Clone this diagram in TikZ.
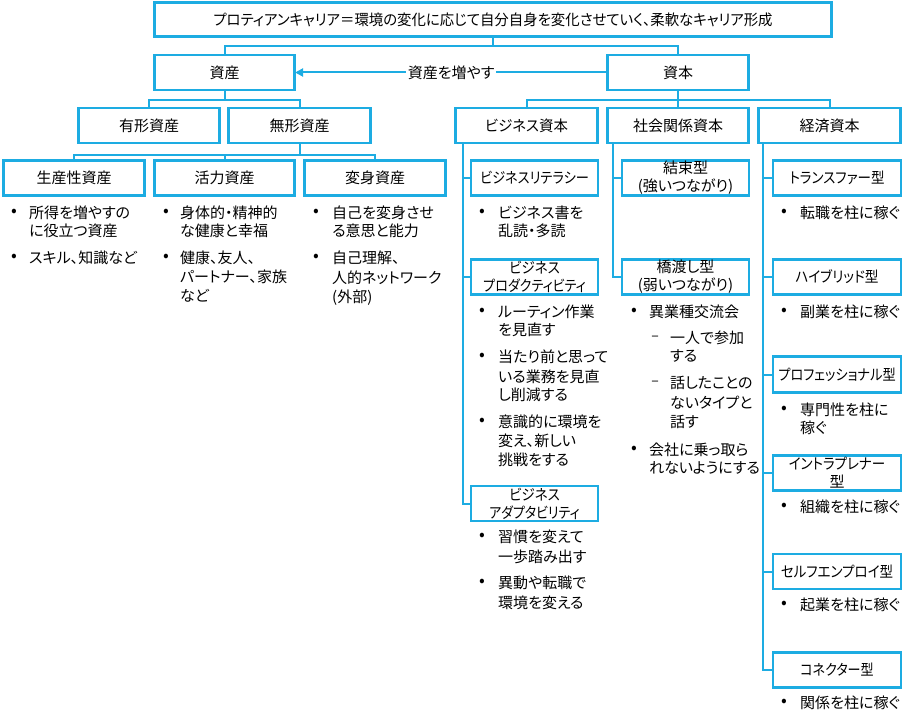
\documentclass[tikz,border=0pt]{standalone}
\usepackage{fontspec}
\usepackage{graphicx}
\setmainfont{Noto Sans CJK JP}[RawFeature={+palt}]
\usetikzlibrary{arrows.meta}
\definecolor{cblue}{RGB}{29,172,226}
\newcommand\hsc[2]{\scalebox{#1}[1]{#2}}
\begin{document}
\begin{tikzpicture}[x=1pt,y=-1pt,
  jfont/.style={font=\fontsize{15}{18}\selectfont},
  box/.style={draw=cblue, line width=2.6pt, inner sep=0pt, jfont,
    minimum width=141pt, minimum height=35pt, text height=13.2pt, text depth=1.8pt},
  sbox/.style={box, minimum width=128pt},
  box2/.style={draw=cblue, line width=2.6pt, inner sep=0pt, jfont, align=center,
    minimum width=127pt, minimum height=35pt},
  conn/.style={draw=cblue, line width=2pt},
  txt/.style={anchor=west, inner sep=0pt, jfont, text height=13.2pt, text depth=1.8pt},
  bul/.style={anchor=center, inner sep=0pt, font=\fontsize{17}{18}\selectfont}
]
\useasboundingbox (0,0) rectangle (909,722);

% boxes
\node[box, minimum width=677pt, minimum height=34.5pt] (title) at (493,19.5) {\hsc{0.96}{プロティアンキャリア＝環境の変化に応じて自分自身を変化させていく、柔軟なキャリア形成}};
\node[box, minimum width=140.5pt] (shisan) at (224.5,72.5) {資産};
\node[box] (shihon) at (678,72.5) {資本};
\node[box] (yukei) at (149,125.5) {有形資産};
\node[box, minimum width=142pt] (mukei) at (299.5,125.5) {無形資産};
\node[box] (seisan) at (74,178) {生産性資産};
\node[box, minimum width=140.5pt] (katsu) at (224.5,178) {活力資産};
\node[box] (henshin) at (375,178) {変身資産};
\node[box, minimum width=142pt] (biz) at (526.5,125.5) {\hsc{0.96}{ビジネス資本}};
\node[box] (social) at (678,125.5) {社会関係資本};
\node[box, minimum width=142pt] (econ) at (829.5,125.5) {経済資本};

\node[sbox, minimum width=127pt] (bizlit) at (534.5,178) {\hsc{0.88}{ビジネスリテラシー}};
\node[box2] (bizprod) at (534.5,277) {\hsc{0.9}{ビジネス}\\\hsc{0.87}{プロダクティビティ}};
\node[box2] (bizadapt) at (534.5,503.5) {\hsc{0.9}{ビジネス}\\\hsc{0.86}{アダプタビリティ}};
\node[box2] (kessoku) at (685.5,178) {結束型\\(強いつながり)};
\node[box2] (hashi) at (685.5,277) {橋渡し型\\(弱いつながり)};
\node[sbox] (transfer) at (837,178) {\hsc{0.9}{トランスファー型}};
\node[sbox] (hybrid) at (837,277) {\hsc{0.91}{ハイブリッド型}};
\node[sbox, minimum height=36pt] (prof) at (837,374.5) {\hsc{0.88}{プロフェッショナル型}};
\node[box2, minimum width=128pt] (intra) at (837,473) {\hsc{0.9}{イントラプレナー}\\型};
\node[sbox] (self) at (837,571.5) {\hsc{0.9}{セルフエンプロイ型}};
\node[sbox] (cnct) at (837,670) {\hsc{0.87}{コネクター型}};

% connectors
\draw[conn] (title.south) -- ++(0,8) -| (shisan.north);
\draw[conn] (title.south) -- ++(0,8) -| (shihon.north);
\draw[conn] (shisan.south) -- ++(0,8.5) -| (yukei.north);
\draw[conn] (shisan.south) -- ++(0,8.5) -| (mukei.north);
\draw[conn] (mukei.south) -- ++(0,10.5) -| (seisan.north);
\draw[conn] (mukei.south) -- ++(0,10.5) -| (katsu.north);
\draw[conn] (mukei.south) -- ++(0,10.5) -| (henshin.north);
\draw[conn] (shihon.south) -- ++(0,8.5) -| (biz.north);
\draw[conn] (shihon.south) -- ++(0,8.5) -| (social.north);
\draw[conn] (shihon.south) -- ++(0,8.5) -| (econ.north);

\draw[conn] ([xshift=8.5pt]biz.south west) |- (bizlit.west);
\draw[conn] ([xshift=8.5pt]biz.south west) |- (bizprod.west);
\draw[conn] ([xshift=8.5pt]biz.south west) |- (bizadapt.west);
\draw[conn] ([xshift=6.5pt]social.south west) |- (kessoku.west);
\draw[conn] ([xshift=6.5pt]social.south west) |- (hashi.west);
\foreach \n in {transfer,hybrid,prof,intra,self,cnct}
  \draw[conn] ([xshift=6pt]econ.south west) |- (\n.west);

\draw[conn, -{Triangle[length=8pt,width=8pt]}, shorten >=-1pt] (shihon.west) -- (shisan.east)
  node[midway, fill=white, inner sep=1.5pt, jfont] (arrlbl) {資産を増やす};

% bullets
\foreach \x/\y [count=\i] in {14/213,14/258,166/213,166/258,316/213,316/258,
  482/213,482/312,482/357,482/422,482/537,482/583,
  634/312,634/450,
  784/213,784/312,784/410,784/507,784/605,784/703}
  \node[bul] (bl\i) at (\x,\y) {•};
\foreach \x/\y [count=\i] in {655/338,655/383}
  \node[bul, font=\fontsize{14}{16}\selectfont] (ds\i) at (\x,\y) {–};

% text lines
\foreach \x/\y/\t [count=\i] in {
  29/213/所得を増やすの, 29/231/に役立つ資産, 29/258/スキル、知識など,
  180/213/身体的・精神的, 180/231/な健康と幸福, 180/258/健康、友人、, 180/277/パートナー、家族, 180/296/など,
  332/213/自己を変身させ, 332/231/る意思と能力, 332/258/自己理解、, 332/278/人的ネットワーク, 332/297/(外部),
  498/213/ビジネス書を, 498/231/乱読・多読,
  498/312/ルーティン作業, 498/330/を見直す,
  498/357/当たり前と思って, 498/377/いる業務を見直, 498/395/し削減する,
  498/422/意識的に環境を, 498/441/変え、新しい, 498/460/挑戦をする,
  498/537/習慣を変えて, 498/557/一歩踏み出す,
  498/583/異動や転職で, 498/603/環境を変える,
  649/312/異業種交流会,
  670/338/一人で参加, 670/356/する,
  670/383/話したことの, 670/403/ないタイプと, 670/422/話す,
  649/450/会社に乗っ取ら, 649/468/れないようにする,
  800/213/転職を柱に稼ぐ, 800/312/副業を柱に稼ぐ,
  800/410/専門性を柱に, 800/428/稼ぐ,
  800/507/組織を柱に稼ぐ, 800/605/起業を柱に稼ぐ, 800/703/関係を柱に稼ぐ}
  \node[txt] (tx\i) at (\x,\y) {\t};
\end{tikzpicture}
\end{document}
